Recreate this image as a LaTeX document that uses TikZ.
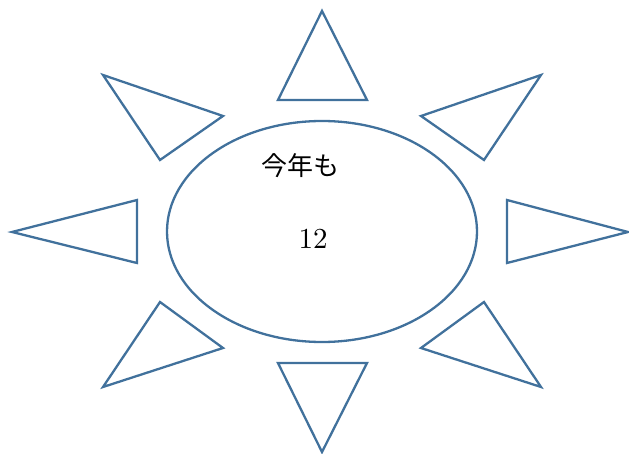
\documentclass[tikz,border=0pt]{standalone}
\usepackage{fontspec}
\usepackage{graphicx}
\newfontfamily\cjk{Noto Sans CJK JP}
\definecolor{sunblue}{HTML}{41719C}
\begin{document}
\begin{tikzpicture}[x=1pt,y=-1pt,
  ray/.style={draw=sunblue,line width=2.3pt,line join=miter},
  lbl/.style={inner sep=0pt,font=\fontsize{26}{30}\selectfont}]
\useasboundingbox (0,0) rectangle (629,454);
% body
\draw[ray] (322,231.5) ellipse [x radius=155, y radius=110.5];
% rays
\draw[ray] (322,11) -- (367,100) -- (278,100) -- cycle;
\draw[ray] (322,452) -- (367,363) -- (278,363) -- cycle;
\draw[ray] (12,232) -- (137,200) -- (137,263) -- cycle;
\draw[ray] (628,232) -- (507,200) -- (507,263) -- cycle;
\draw[ray] (103,75) -- (223,116) -- (160,160) -- cycle;
\draw[ray] (541,75) -- (421,116) -- (484,160) -- cycle;
\draw[ray] (160,302) -- (223,348) -- (103,387) -- cycle;
\draw[ray] (484,302) -- (421,348) -- (541,387) -- cycle;
% text
\node[lbl] (t1) at (300,166) {\cjk 今年も};
\node[inner sep=0pt] (t2) at (313,239) {\scalebox{2.9}{\normalsize 12}};
\end{tikzpicture}
\end{document}
